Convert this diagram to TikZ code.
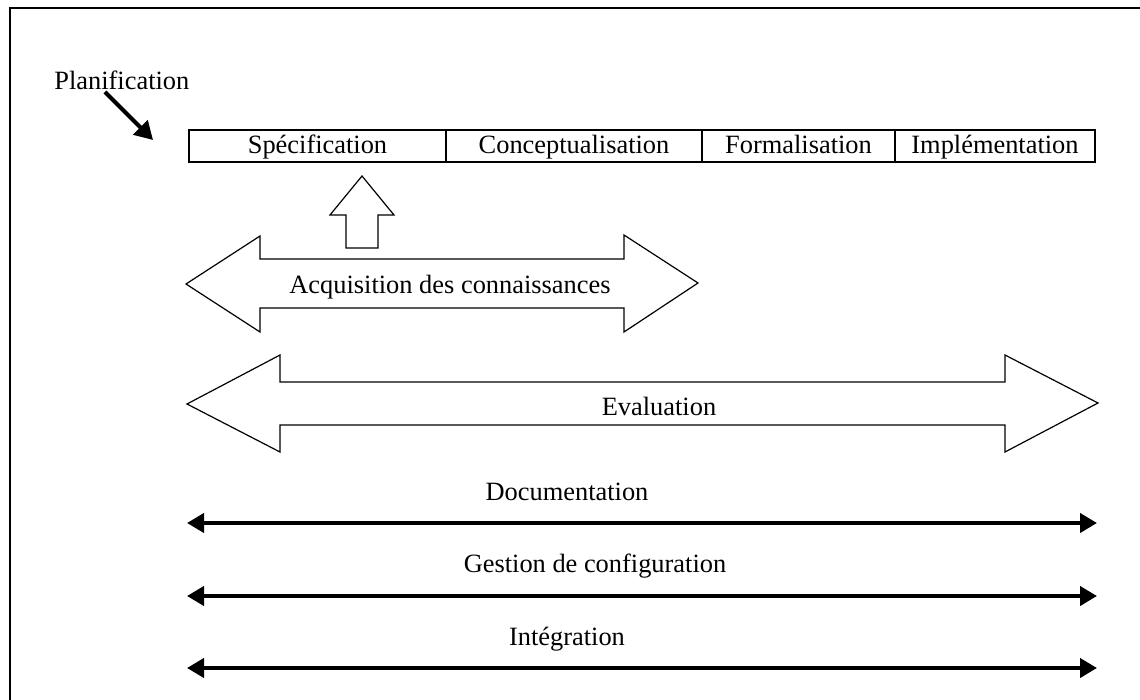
\documentclass[tikz,border=0pt]{standalone}
\usepackage{fontspec}
\setmainfont{Liberation Serif}
\usetikzlibrary{arrows.meta}
\begin{document}
\begin{tikzpicture}[x=0.5pt,y=-0.5pt,
  every node/.style={font=\fontsize{13.2pt}{15pt}\selectfont, inner sep=0pt},
  phase/.style={draw, line width=0.85pt, outer sep=0pt, minimum height=16pt,
    text height=10pt, text depth=2pt, anchor=west},
  blockarrow/.style={draw, line width=0.6pt, fill=white, line join=miter},
  thickarrow/.style={line width=2pt, {Triangle[length=8.5pt,width=9.5pt]}-{Triangle[length=8.5pt,width=9.5pt]}},
  label/.style={anchor=base}]
\useasboundingbox (0,0) rectangle (1140,700);
% frame
\draw[line width=0.9pt] (10,710) -- (10,8) -- (1150,8);

% phase boxes
\node[phase, minimum width=128.5pt] (spec) at (189,146) {Spécification};
\node[phase, minimum width=128pt] (conc) at (spec.east) {Conceptualisation};
\node[phase, minimum width=96.5pt] (form) at (conc.east) {Formalisation};
\node[phase, minimum width=100pt] (impl) at (form.east) {Implémentation};

% planning
\node[anchor=base west] (plan) at (54,90) {Planification};
\coordinate (plantip) at (153,140);
\draw[line width=2pt, -{Triangle[length=9pt,width=10pt]}] (105,92) -- (plantip);

% upward block arrow
\draw[blockarrow] (346,248) -- (346,215) -- (330,215) -- (362,176) -- (394,215)
  -- (378,215) -- (378,248) -- cycle;

% knowledge acquisition double block arrow
\draw[blockarrow] (186,284) -- (260,236) -- (260,259) -- (624,259) -- (624,235)
  -- (698,283) -- (624,332) -- (624,308) -- (260,308) -- (260,332) -- cycle;
\node[label] (acq) at (450,293) {Acquisition des connaissances};

% evaluation double block arrow
\draw[blockarrow] (187,404) -- (280,355) -- (280,382) -- (1005,382) -- (1005,355)
  -- (1098,403) -- (1005,452) -- (1005,425) -- (280,425) -- (280,452) -- cycle;
\node[label] (eval) at (659,415) {Evaluation};

% support activities
\coordinate (docL) at (187,523);  \coordinate (docR) at (1097,523);
\coordinate (gesL) at (187,596);  \coordinate (gesR) at (1097,596);
\coordinate (intL) at (187,668);  \coordinate (intR) at (1097,668);
\node[label] (doc) at (567,500) {Documentation};
\node[label] (ges) at (595,572) {Gestion de configuration};
\node[label] (int) at (567,645) {Intégration};
\draw[thickarrow] (docL) -- (docR);
\draw[thickarrow] (gesL) -- (gesR);
\draw[thickarrow] (intL) -- (intR);
\end{tikzpicture}
\end{document}
